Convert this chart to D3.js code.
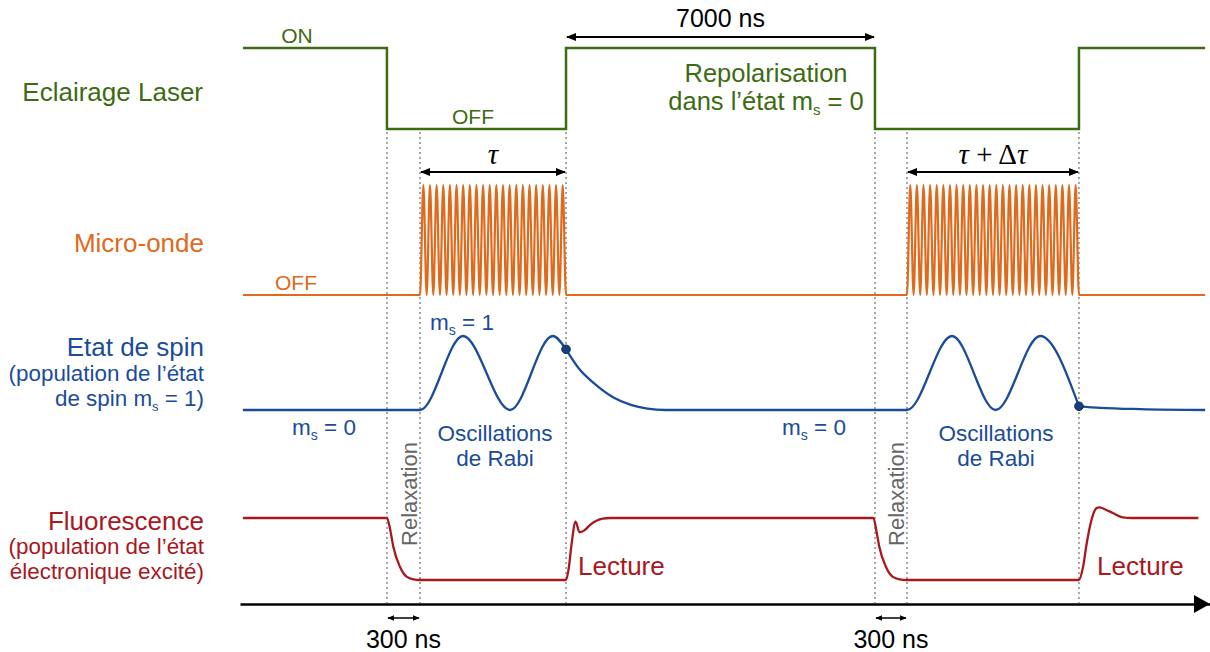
<!DOCTYPE html>
<html lang="fr">
  <head>
    <meta charset="utf-8">
    <title>Séquence Rabi</title>
    <script src="https://d3js.org/d3.v7.min.js"></script>
    <style>
      body { margin: 0; background: #fff; }
      svg text { font-family: "Liberation Sans", Arial, Helvetica, sans-serif; }
      .math { font-family: "Liberation Serif", "DejaVu Serif", serif; }
    </style>
  </head>
  <body>
  <div id="chart"></div>
  <script>

  // schematic time axis, arbitrary units (0..100)
  var guideTimes = [15.15, 18.56, 33.61, 65.46, 68.76, 86.49];

  // laser state: 1 = ON, 0 = OFF (step changes)
  var laserSteps = [[0.3, 1], [15.15, 0], [33.61, 1], [65.46, 0], [86.49, 1], [99.5, 1]];

  // microwave pulses
  var mwStart = 0.3, mwEnd = 99.5;
  var mwPulses = [
    {start: 18.56, end: 33.61, cycles: 22},
    {start: 68.76, end: 86.49, cycles: 26}
  ];

  // population of ms = 1 (0..1), split where the curve has a kink
  var spinSegments = [
    [[0.3, 0], [18.56, 0], [22.99, 1], [27.84, 0], [32.24, 1], [33.61, 0.82]],
    [[33.61, 0.82], [35.0, 0.55], [36.6, 0.35], [38.5, 0.17], [40.3, 0.07], [42.0, 0.02], [43.8, 0],
     [68.76, 0], [73.4, 1], [77.9, 0], [82.5, 1], [86.49, 0.05]],
    [[86.49, 0.05], [88.7, 0.03], [92.8, 0.012], [99.5, 0]]
  ];
  var spinDots = [[33.61, 0.82], [86.49, 0.05]];

  // fluorescence (0 = low, 1 = steady high level)
  var fluo = [
    [0.3, 1], [15.15, 1], [15.5, 0.8], [15.8, 0.54], [16.5, 0.21], [17.2, 0.05], [17.9, 0.01], [18.56, 0],
    [33.61, 0], [33.9, 0.2], [34.2, 0.6], [34.6, 0.94], [35.0, 0.77], [35.5, 0.8], [36.1, 0.89], [37.4, 0.99], [38.1, 1],
    [65.3, 1], [65.6, 0.8], [65.9, 0.54], [66.6, 0.21], [67.3, 0.05], [68.0, 0.01], [68.7, 0],
    [86.49, 0], [86.9, 0.2], [87.3, 0.6], [87.8, 0.98], [88.3, 1.16], [88.6, 1.17], [89.3, 1.13], [90.0, 1.08],
    [91.0, 1.01], [91.9, 1], [98.8, 1]
  ];

  // duration arrows
  var spans = [
    {t0: 33.61, t1: 65.46, label: "7000 ns"},
    {t0: 18.56, t1: 33.61, label: "tau"},
    {t0: 68.76, t1: 86.49, label: "tau+dtau"},
    {t0: 15.15, t1: 18.56, label: "300 ns"},
    {t0: 65.46, t1: 68.76, label: "300 ns"}
  ];

  var green = "#3d6b12", orange = "#e0691b", blue = "#1b4c9a", red = "#a8181d", grey = "#777";

  var w = 1210, h = 652;

  var svg = d3.select("#chart")
    .append("svg")
    .attr("width", w)
    .attr("height", h);

  var x = d3.scaleLinear().domain([0, 100]).range([240, 1210]);
  var yLaser = d3.scaleLinear().domain([0, 1]).range([129, 48]);
  var yMw = d3.scaleLinear().domain([0, 1]).range([295, 185]);
  var ySpin = d3.scaleLinear().domain([0, 1]).range([410, 336]);
  var yFluo = d3.scaleLinear().domain([0, 1]).range([580, 518]);

  var defs = svg.append("defs");
  [["arrow", 10], ["arrowSmall", 7]].forEach(function(m) {
    defs.append("marker")
      .attr("id", m[0])
      .attr("viewBox", "0 -5 10 10")
      .attr("refX", 9)
      .attr("refY", 0)
      .attr("markerUnits", "userSpaceOnUse")
      .attr("markerWidth", m[1])
      .attr("markerHeight", m[1])
      .attr("orient", "auto-start-reverse")
      .append("path")
      .attr("d", "M0,-4L10,0L0,4Z")
      .attr("fill", "#000");
  });

  // dotted guides
  svg.selectAll(".guide").data(guideTimes).enter().append("line")
    .attr("class", "guide")
    .attr("x1", d => x(d)).attr("x2", d => x(d))
    .attr("y1", 132).attr("y2", 603)
    .attr("stroke", grey)
    .attr("stroke-width", 1.3)
    .attr("stroke-dasharray", "2,3");

  // time axis
  var axis = svg.append("g")
    .attr("transform", "translate(0,604)")
    .call(d3.axisBottom(x).ticks(0).tickSizeOuter(0));
  axis.select(".domain").attr("stroke", "#000").attr("stroke-width", 2.4);
  svg.append("path")
    .attr("d", "M" + (x(100) - 16) + ",595L" + x(100) + ",604L" + (x(100) - 16) + ",613Z")
    .attr("fill", "#000");

  // laser
  svg.append("path")
    .attr("d", d3.line().x(d => x(d[0])).y(d => yLaser(d[1])).curve(d3.curveStepAfter)(laserSteps))
    .attr("fill", "none").attr("stroke", green).attr("stroke-width", 2.5);

  // microwave: baseline with sinusoidal bursts (one point per half cycle)
  var mwPoints = [[mwStart, 0]];
  mwPulses.forEach(function(p) {
    var n = p.cycles * 2;
    for (var k = 0; k <= n; k++) {
      mwPoints.push([p.start + k * (p.end - p.start) / n, k % 2]);
    }
  });
  mwPoints.push([mwEnd, 0]);
  svg.append("path")
    .attr("d", d3.line().x(d => x(d[0])).y(d => yMw(d[1])).curve(d3.curveMonotoneX)(mwPoints))
    .attr("fill", "none").attr("stroke", orange).attr("stroke-width", 2.2);

  // spin
  var spinLine = d3.line().x(d => x(d[0])).y(d => ySpin(d[1])).curve(d3.curveMonotoneX);
  svg.selectAll(".spin").data(spinSegments).enter().append("path")
    .attr("class", "spin")
    .attr("d", spinLine)
    .attr("fill", "none").attr("stroke", blue).attr("stroke-width", 2.3);
  svg.selectAll(".spinDot").data(spinDots).enter().append("circle")
    .attr("class", "spinDot")
    .attr("cx", d => x(d[0])).attr("cy", d => ySpin(d[1]))
    .attr("r", 4.3)
    .attr("fill", "#173f7c").attr("stroke", "#0e2a57").attr("stroke-width", 1);

  // fluorescence
  svg.append("path")
    .attr("d", d3.line().x(d => x(d[0])).y(d => yFluo(d[1])).curve(d3.curveMonotoneX)(fluo))
    .attr("fill", "none").attr("stroke", red).attr("stroke-width", 2.3);

  // duration arrows
  var spanY = {"7000 ns": 37, "tau": 172, "tau+dtau": 172, "300 ns": 618};
  svg.selectAll(".span").data(spans).enter().append("line")
    .attr("class", "span")
    .attr("x1", d => x(d.t0) + 1).attr("x2", d => x(d.t1) - 1)
    .attr("y1", d => spanY[d.label]).attr("y2", d => spanY[d.label])
    .attr("stroke", "#000")
    .attr("stroke-width", d => d.label == "300 ns" ? 1.5 : 1.8)
    .attr("marker-start", d => d.label == "300 ns" ? "url(#arrowSmall)" : "url(#arrow)")
    .attr("marker-end", d => d.label == "300 ns" ? "url(#arrowSmall)" : "url(#arrow)");

  spans.forEach(function(d) {
    var cx = (x(d.t0) + x(d.t1)) / 2;
    if (d.label == "7000 ns") {
      svg.append("text").attr("x", cx).attr("y", 27).attr("text-anchor", "middle")
        .attr("font-size", 25).text(d.label);
    } else if (d.label == "300 ns") {
      svg.append("text").attr("x", cx).attr("y", 648).attr("text-anchor", "middle")
        .attr("font-size", 25).text(d.label);
    } else {
      var t = svg.append("text").attr("x", cx).attr("y", 164).attr("text-anchor", "middle")
        .attr("class", "math").attr("font-size", 29);
      t.append("tspan").attr("font-style", "italic").text("τ");
      if (d.label == "tau+dtau") {
        t.append("tspan").text(" + Δ");
        t.append("tspan").attr("font-style", "italic").text("τ");
      }
    }
  });

  // text helpers
  function label(txt, xx, yy, opts) {
    var t = svg.append("text")
      .attr("x", xx).attr("y", yy)
      .attr("font-size", opts.size)
      .attr("fill", opts.color)
      .attr("text-anchor", opts.anchor || "start");
    var parts = txt.split("_s");
    parts.forEach(function(p, i) {
      if (i > 0) {
        t.append("tspan").attr("font-size", Math.round(opts.size * 0.6)).attr("dy", 5).text("s");
        t.append("tspan").attr("dy", -5).text(p);
      } else {
        t.append("tspan").text(p);
      }
    });
    return t;
  }

  // lane titles
  label("Eclairage Laser", 203, 101, {size: 26, color: green, anchor: "end"});
  label("Micro-onde", 204, 252, {size: 26, color: orange, anchor: "end"});
  label("Etat de spin", 204, 356, {size: 26, color: blue, anchor: "end"});
  label("(population de l’état", 204, 381, {size: 22.4, color: blue, anchor: "end"});
  label("de spin m_s = 1)", 204, 406, {size: 22.4, color: blue, anchor: "end"});
  label("Fluorescence", 204, 530, {size: 26, color: red, anchor: "end"});
  label("(population de l’état", 204, 554, {size: 22.4, color: red, anchor: "end"});
  label("électronique excité)", 204, 579, {size: 22.4, color: red, anchor: "end"});

  // annotations
  label("ON", 297, 43, {size: 21, color: green, anchor: "middle"});
  label("OFF", 473, 124, {size: 21, color: green, anchor: "middle"});
  label("OFF", 296, 290, {size: 21, color: orange, anchor: "middle"});
  label("Repolarisation", 766, 82, {size: 25.5, color: green, anchor: "middle"});
  label("dans l’état m_s = 0", 766, 110, {size: 25.5, color: green, anchor: "middle"});

  label("m_s = 1", 430, 330, {size: 22.5, color: blue});
  label("m_s = 0", 292, 435, {size: 22.5, color: blue});
  label("m_s = 0", 782, 435, {size: 22.5, color: blue});
  [495, 996].forEach(function(cx) {
    label("Oscillations", cx, 441, {size: 22.5, color: blue, anchor: "middle"});
    label("de Rabi", cx, 466, {size: 22.5, color: blue, anchor: "middle"});
  });

  [417, 904].forEach(function(bx) {
    svg.append("text")
      .attr("transform", "translate(" + bx + ",494) rotate(-90)")
      .attr("text-anchor", "middle")
      .attr("font-size", 22)
      .attr("fill", "#666")
      .text("Relaxation");
  });

  label("Lecture", 578, 575, {size: 26, color: red});
  label("Lecture", 1097, 575, {size: 26, color: red});

  </script>
  </body>
</html>
